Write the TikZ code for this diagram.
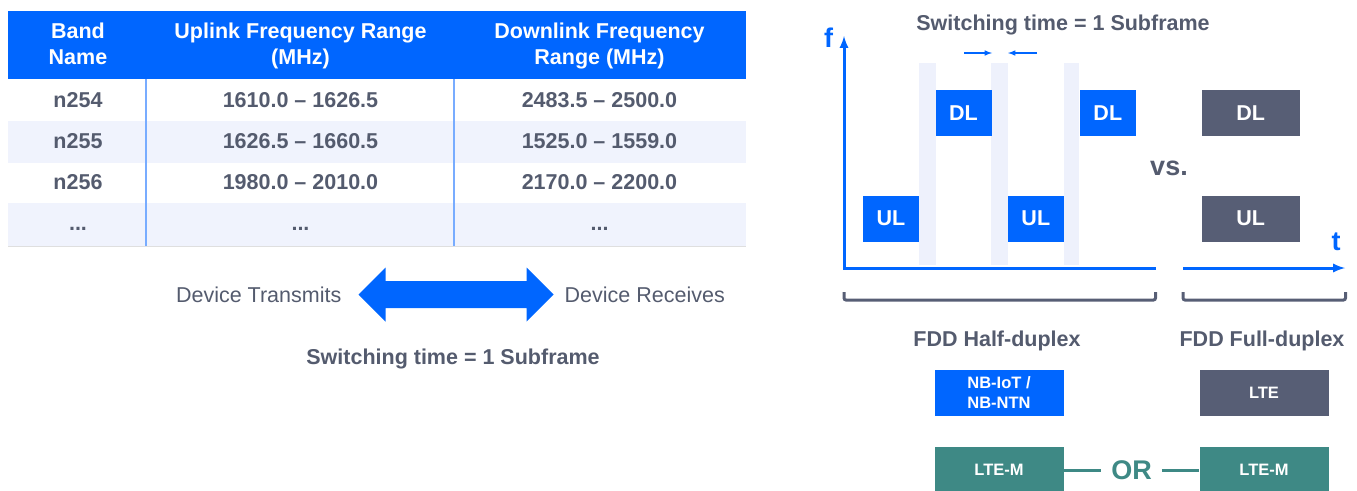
\documentclass[tikz,border=0pt]{standalone}
\usepackage{fontspec}
\setmainfont{Liberation Sans}
\usetikzlibrary{positioning}

\definecolor{nblue}{RGB}{0,102,255}
\definecolor{slate}{RGB}{84,91,110}
\definecolor{boxgray}{RGB}{87,94,117}
\definecolor{ltemgreen}{RGB}{62,137,133}
\definecolor{rowtint}{RGB}{240,243,253}
\definecolor{gaptint}{RGB}{238,241,252}
\definecolor{colline}{RGB}{120,172,255}

\begin{document}
\begin{tikzpicture}[x=1pt,y=-1pt,
  txt/.style={text=slate,inner sep=0,font=\bfseries\fontsize{21.5}{26}\selectfont},
  plaintxt/.style={text=slate,inner sep=0,font=\fontsize{21.5}{26}\selectfont},
  head/.style={text=white,inner sep=0,align=center,anchor=north,font=\bfseries\fontsize{21.5}{26}\selectfont},
  blk/.style={fill=nblue,text=white,inner sep=0,minimum width=56,minimum height=46,font=\bfseries\fontsize{21.5}{26}\selectfont},
  tech/.style={text=white,inner sep=0,align=center,minimum width=129,minimum height=46,font=\bfseries\fontsize{16.5}{20}\selectfont},
  axis/.style={nblue,line width=3},
  bracket/.style={boxgray,line width=3,rounded corners=2}]

\useasboundingbox (0,0) rectangle (1357,490);

% band table
\fill[nblue] (8,11) rectangle (746,79);
\fill[rowtint] (8,121) rectangle (746,163);
\fill[rowtint] (8,203) rectangle (746,246);
\draw[gray!25] (8,246.5) -- (746,246.5);
\draw[colline,line width=2] (146,79) -- (146,246) (454,79) -- (454,246);

\node[head] (hband) at (78,23) {Band\\Name};
\node[head] (hup) at (300.5,23) {Uplink Frequency Range\\(MHz)};
\node[head] (hdown) at (599.5,23) {Downlink Frequency\\Range (MHz)};

\foreach \i/\y/\band/\up/\down in {1/100/n254/1610.0 -- 1626.5/2483.5 -- 2500.0,
    2/141/n255/1626.5 -- 1660.5/1525.0 -- 1559.0,
    3/182.5/n256/1980.0 -- 2010.0/2170.0 -- 2200.0} {
  \node[txt] (band\i) at (78,\y) {\band};
  \node[txt] (up\i) at (300.5,\y) {\up};
  \node[txt] (down\i) at (599.5,\y) {\down};
}
\node[txt,anchor=base] (band4) at (78,230) {...};
\node[txt,anchor=base] (up4) at (300.5,230) {...};
\node[txt,anchor=base] (down4) at (599.5,230) {...};

% transmit / receive
\coordinate (swapl) at (358.5,294.5);
\coordinate (swapr) at (553.5,294.5);
\fill[nblue] (swapl) -- ++(27,-27) -- ++(0,13.5) -- ++(141,0) -- ++(0,-13.5) -- (swapr)
  -- ++(-27,27) -- ++(0,-13.5) -- ++(-141,0) -- ++(0,13.5) -- cycle;
\node[plaintxt,left=17pt of swapl] (tx) {Device Transmits};
\node[plaintxt,right=11pt of swapr] (rx) {Device Receives};
\node[txt,anchor=base] (swleft) at (453,364) {Switching time = 1 Subframe};

% half vs full duplex
\node[txt,anchor=base] (swright) at (1063,30) {Switching time = 1 Subframe};
\foreach \x/\w in {919/17, 990.5/17.5, 1064/15}
  \fill[gaptint] (\x,63) rectangle +(\w,202);

\coordinate (orig) at (844,268);
\coordinate (ftip) at (844,36);
\coordinate (tbreak) at (1156,268);
\coordinate (tcont) at (1183,268);
\coordinate (ttip) at (1345,268);
\draw[axis,latex-] (ftip) -- (orig) -- (tbreak);
\draw[axis,-latex] (tcont) -- (ttip);
\node[text=nblue,inner sep=0,anchor=base,font=\bfseries\fontsize{27}{30}\selectfont] (f) at (828.5,47) {f};
\node[text=nblue,inner sep=0,anchor=base,font=\bfseries\fontsize{27}{30}\selectfont] (t) at (1336,250) {t};

\node[blk] (ul1) at (891,218.5) {UL};
\node[blk] (dl1) at (963.5,113) {DL};
\node[blk] (ul2) at (1035.8,218.5) {UL};
\node[blk] (dl2) at (1107.8,113) {DL};
\node[blk,fill=boxgray,minimum width=98] (dlfull) at (1250.6,113) {DL};
\node[blk,fill=boxgray,minimum width=98] (ulfull) at (1250.6,218.5) {UL};
\node[txt,anchor=base,font=\bfseries\fontsize{27}{30}\selectfont] (vs) at (1169,175) {vs.};

\coordinate (sa) at (964,53);
\coordinate (sb) at (992,53);
\coordinate (sc) at (1037,53);
\coordinate (sd) at (1008,53);
\draw[nblue,line width=1.5,-latex] (sa) -- (sb);
\draw[nblue,line width=1.5,-latex] (sc) -- (sd);

\draw[bracket] (844,292) |- (1155.5,300) -- (1155.5,292);
\draw[bracket] (1183,292) |- (1345.5,300) -- (1345.5,292);
\node[txt,anchor=base] (half) at (997,346.5) {FDD Half-duplex};
\node[txt,anchor=base] (full) at (1262,346.5) {FDD Full-duplex};

\node[tech,fill=nblue] (nbiot) at (999,393) {NB-IoT /\\NB-NTN};
\node[tech,fill=boxgray] (lte) at (1264,393) {LTE};
\node[tech,fill=ltemgreen] (ltem1) at (999,470) {LTE-M};
\node[tech,fill=ltemgreen] (ltem2) at (1264,470) {LTE-M};
\node[text=ltemgreen,inner sep=10,font=\bfseries\fontsize{27}{30}\selectfont] (or) at (1131.5,470) {OR};
\draw[ltemgreen,line width=3] (ltem1) -- (or) -- (ltem2);
\end{tikzpicture}
\end{document}
